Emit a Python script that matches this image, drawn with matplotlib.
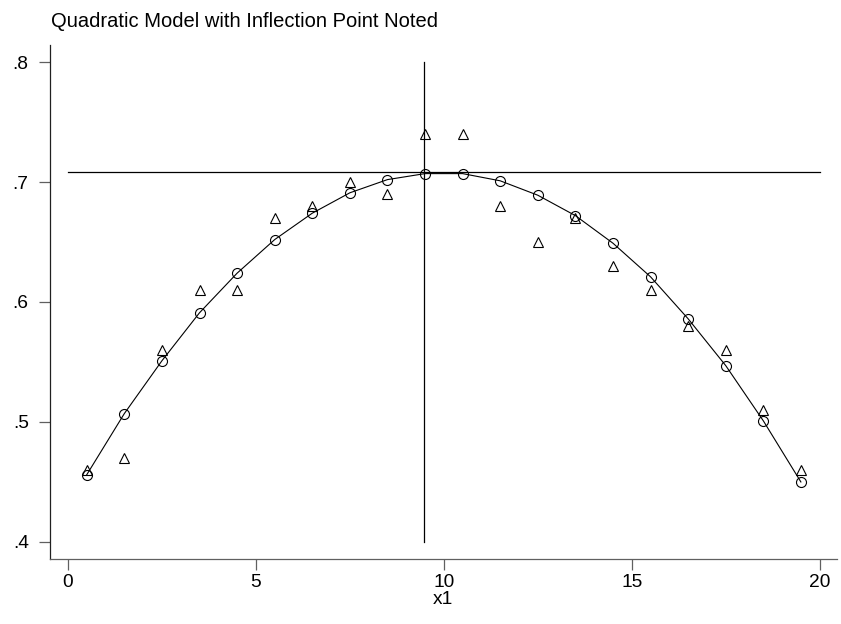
import numpy as np
import matplotlib
matplotlib.use('Agg')
import matplotlib.pyplot as plt

# данные
x1 = [0.5, 1.5, 2.5, 3.5, 4.5, 5.5, 6.5, 7.5, 8.5, 9.5,
      10.5, 11.5, 12.5, 13.5, 14.5, 15.5, 16.5, 17.5, 18.5, 19.5]
observed = [0.46, 0.47, 0.56, 0.61, 0.61, 0.67, 0.68, 0.70, 0.69, 0.74,
            0.74, 0.68, 0.65, 0.67, 0.63, 0.61, 0.58, 0.56, 0.51, 0.46]
predicted = [0.456, 0.507, 0.551, 0.591, 0.624, 0.652, 0.674, 0.691, 0.702, 0.707,
             0.707, 0.701, 0.689, 0.672, 0.649, 0.621, 0.586, 0.547, 0.501, 0.450]

# точка перегиба (вершина параболы)
vertex_x = 9.46
vertex_y = 0.708

x_ticks = [0, 5, 10, 15, 20]
y_ticks = [0.4, 0.5, 0.6, 0.7, 0.8]
y_labels = ['.4', '.5', '.6', '.7', '.8']

plt.rcParams['font.family'] = ['Liberation Sans', 'DejaVu Sans']

fig = plt.figure(figsize=(8.41, 6.24), dpi=100)
ax = fig.add_axes([0.0589, 0.1042, 0.9363, 0.8237])

# линии, отмечающие точку перегиба
ax.plot([vertex_x, vertex_x], [0.4, 0.8], color='black', lw=0.9)
ax.plot([0, 20], [vertex_y, vertex_y], color='black', lw=0.9)

# модель и наблюдения
ax.plot(x1, predicted, color='black', lw=0.8, marker='o', ms=7.2,
        mfc='none', mec='black', mew=0.8)
ax.plot(x1, observed, ls='none', marker='^', ms=7.5,
        mfc='none', mec='black', mew=0.8)

ax.set_xlim(-0.49, 20.46)
ax.set_ylim(0.3858, 0.8142)
ax.set_xticks(x_ticks)
ax.set_xticklabels([str(t) for t in x_ticks])
ax.set_yticks(y_ticks)
ax.set_yticklabels(y_labels)
ax.tick_params(direction='out', length=8, width=0.9, labelsize=13.8,
               color='#606060')
ax.tick_params(axis='x', pad=3)
ax.tick_params(axis='y', pad=7)

for side in ['top', 'right']:
    ax.spines[side].set_visible(False)
ax.spines['left'].set_linewidth(0.9)
ax.spines['left'].set_color('#202020')
ax.spines['bottom'].set_linewidth(0.9)
ax.spines['bottom'].set_color('#606060')

ax.set_xlabel('x1', fontsize=13.8, labelpad=0)
fig.text(51 / 841, 1 - 27 / 624, 'Quadratic Model with Inflection Point Noted',
         fontsize=14.5, ha='left', va='baseline')

fig.savefig('out.png', dpi=100)
